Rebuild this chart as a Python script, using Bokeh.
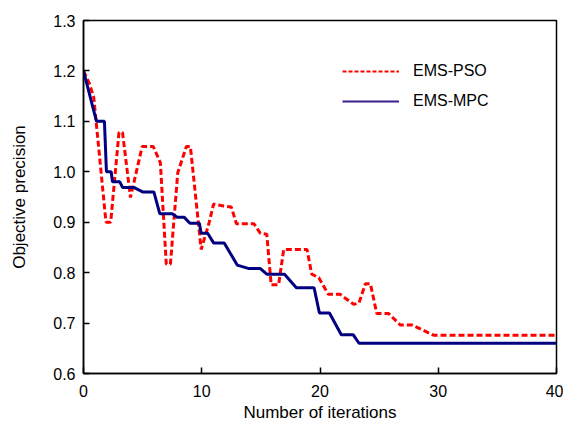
from bokeh.plotting import figure
from bokeh.models import Range1d, FixedTicker, PrintfTickFormatter, Legend, LegendItem, ColumnDataSource
from bokeh.embed import file_html
from bokeh.resources import INLINE

# EMS-PSO (red dashed)
pso_x = [0, 0.5, 0.87, 1.9, 2.3, 3.0, 3.3, 3.97, 4.96, 5.9, 6.5, 7.0, 7.35, 7.97, 8.7, 9.04,
         9.95, 10.6, 11.0, 11.86, 12.5, 12.93, 14.4, 14.96, 15.5, 15.87, 16.5, 16.93, 18.9,
         19.3, 19.9, 20.7, 21.7, 22.85, 23.3, 23.84, 24.26, 24.8, 25.8, 26.8, 27.8, 29.6, 40]
pso_y = [1.2, 1.175, 1.147, 0.9, 0.9, 1.078, 1.078, 0.949, 1.05, 1.05, 1.018, 0.817, 0.817, 0.998, 1.05, 1.05,
         0.846, 0.897, 0.936, 0.932, 0.93, 0.897, 0.897, 0.878, 0.876, 0.776, 0.776, 0.846, 0.846,
         0.797, 0.79, 0.757, 0.757, 0.737, 0.74, 0.778, 0.778, 0.719, 0.719, 0.696, 0.696, 0.676, 0.676]

# EMS-MPC (navy solid)
mpc_x = [0, 1.1, 1.77, 1.94, 2.34, 2.45, 3.07, 3.3, 4.25, 5.0, 5.95, 6.45, 7.5, 7.92, 8.5, 9.0, 9.8,
         9.95, 10.5, 11.0, 11.9, 13.0, 14.0, 14.96, 15.5, 17.0, 18.0, 19.5, 19.95, 20.8, 21.8, 22.8, 23.3, 40]
mpc_y = [1.2, 1.1, 1.1, 1.0, 1.0, 0.98, 0.98, 0.969, 0.969, 0.96, 0.96, 0.917, 0.917, 0.91, 0.91, 0.898, 0.898,
         0.878, 0.878, 0.859, 0.859, 0.815, 0.808, 0.808, 0.797, 0.797, 0.77, 0.77, 0.72, 0.72, 0.677, 0.677, 0.66, 0.66]

x_ticks = [0, 10, 20, 30, 40]
y_ticks = [0.6, 0.7, 0.8, 0.9, 1.0, 1.1, 1.2, 1.3]

FONT = "Liberation Sans"

p = figure(width=563, height=424, output_backend="svg", toolbar_location=None,
           x_range=Range1d(0, 40), y_range=Range1d(0.6, 1.3),
           min_border_left=83, min_border_right=7, min_border_top=20, min_border_bottom=51)
p.grid.visible = False
p.outline_line_color = "black"
p.outline_line_width = 1.5
p.background_fill_color = "white"
p.border_fill_color = "white"

r_pso = p.line(pso_x, pso_y, line_color="#ff0000", line_width=3, line_dash="6 3")
r_mpc = p.line(mpc_x, mpc_y, line_color="#000080", line_width=3)

# legend-only renderers (thinner sample lines), no visible data
nan_src = ColumnDataSource(data=dict(x=[float("nan")], y=[float("nan")]))
l_pso = p.line("x", "y", source=nan_src, line_color="#ff0000", line_width=2, line_dash="4 2")
l_mpc = p.line("x", "y", source=nan_src, line_color="#3a1f8c", line_width=2)

for ax in (p.xaxis[0], p.yaxis[0]):
    ax.axis_line_color = "black"
    ax.axis_line_width = 1.5
    ax.major_tick_in = 6
    ax.major_tick_out = 0
    ax.major_tick_line_color = "black"
    ax.major_tick_line_width = 1.5
    ax.minor_tick_line_color = None
    ax.major_label_text_font = FONT
    ax.major_label_text_font_size = "16px"
    ax.major_label_text_color = "black"
    ax.axis_label_text_font = FONT
    ax.axis_label_text_font_size = "17px"
    ax.axis_label_text_font_style = "normal"
    ax.axis_label_text_color = "black"

p.xaxis.ticker = FixedTicker(ticks=x_ticks)
p.yaxis.ticker = FixedTicker(ticks=y_ticks)
p.yaxis.formatter = PrintfTickFormatter(format="%.1f")
p.xaxis.axis_label = "Number of iterations"
p.yaxis.axis_label = "Objective precision"
p.xaxis.major_label_standoff = 11
p.yaxis.major_label_standoff = 8
p.xaxis.axis_label_standoff = 3
p.yaxis.axis_label_standoff = 21

legend = Legend(items=[LegendItem(label="EMS-PSO", renderers=[l_pso]),
                       LegendItem(label="EMS-MPC", renderers=[l_mpc])],
                location=(259, 262), padding=0, margin=0, spacing=10,
                glyph_width=57, glyph_height=20, label_height=20, label_standoff=14,
                label_text_font=FONT, label_text_font_size="16px", label_text_color="black",
                border_line_alpha=0, background_fill_alpha=0)
p.add_layout(legend, "center")

open("out.html", "w").write(file_html(p, INLINE))
